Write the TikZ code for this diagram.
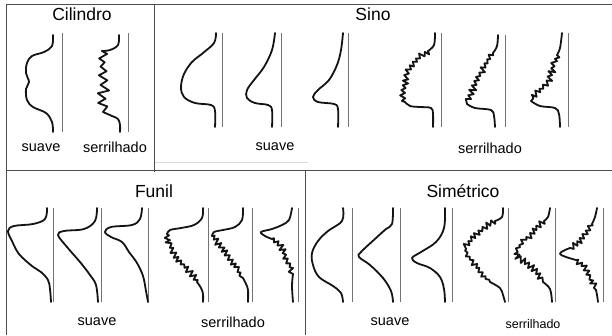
\documentclass[tikz,border=0pt]{standalone}
\usepackage{fontspec}
\setmainfont{Liberation Sans}
\usetikzlibrary{decorations}
\pgfdeclaredecoration{jag}{up}{
  \state{up}[width=+.5\pgfdecorationsegmentlength, next state=down]{
    \pgfmathsetlengthmacro\jagamp{\pgfdecorationsegmentamplitude*(0.3+0.9*rnd)}
    \pgfmathsetlengthmacro\jagpos{\pgfdecorationsegmentlength*(0.12+0.26*rnd)}
    \pgfpathlineto{\pgfqpoint{\jagpos}{\jagamp}}
  }
  \state{down}[width=+.5\pgfdecorationsegmentlength, next state=up]{
    \pgfmathsetlengthmacro\jagamp{\pgfdecorationsegmentamplitude*(0.3+0.9*rnd)}
    \pgfmathsetlengthmacro\jagpos{\pgfdecorationsegmentlength*(0.12+0.26*rnd)}
    \pgfpathlineto{\pgfqpoint{\jagpos}{-\jagamp}}
  }
  \state{final}{\pgfpathlineto{\pgfpointdecoratedpathlast}}
}
\tikzset{
  frame/.style={draw=black!70, line width=1pt},
  axisline/.style={draw=black!55, line width=0.8pt},
  logcurve/.style={draw=black!92, line width=1.8pt, line join=round, line cap=round},
  ttl/.style={anchor=base, inner sep=0pt, font=\fontsize{17.5}{20}\selectfont},
  lbl/.style={anchor=base, inner sep=0pt, font=\fontsize{14.5}{17}\selectfont},
  lbls/.style={anchor=base, inner sep=0pt, font=\fontsize{12.5}{15}\selectfont}
}
% smooth part
\newcommand{\sm}[1]{\draw[logcurve] plot[smooth, tension=0.6] coordinates {#1};}
% jagged part (polyline, decorated)
\newcommand{\jg}[2][]{\draw[logcurve, decorate, decoration={jag, segment length=5pt, amplitude=2.8pt, #1}] plot[sharp plot] coordinates {#2};}
\begin{document}
\begin{tikzpicture}[x=1pt,y=-1pt]
\pgfmathsetseed{11}
\useasboundingbox (0,0) rectangle (612,335);
\fill[white] (0,0) rectangle (612,335);
% frame
\coordinate (tl) at (6,4); \coordinate (tr) at (612,4);
\coordinate (bl) at (6,335);
\coordinate (ct) at (154,4); \coordinate (cb) at (154,172);
\coordinate (ml) at (6,170); \coordinate (mr) at (612,170);
\coordinate (dt) at (305,170); \coordinate (db) at (305,335);
\coordinate (sl) at (155,162); \coordinate (sr) at (308,162);
\draw[frame] (tl) -- (tr);
\draw[frame] (tl) -- (bl);
\draw[frame] (ct) -- (cb);
\draw[frame] (ml) -- (mr);
\draw[frame] (dt) -- (db);
\draw[draw=black!15, line width=0.8pt] (sl) -- (sr);

% titles
\node[ttl] (tcil) at (82,20) {Cilindro};
\node[ttl] (tsin) at (373,20) {Sino};
\node[ttl] (tfun) at (154,197) {Funil};
\node[ttl] (tsim) at (463,197) {Simétrico};
% labels
\node[lbl] (lc1) at (41,151) {suave};
\node[lbl] (lc2) at (115,152) {serrilhado};
\node[lbl] (ls1) at (275,150) {suave};
\node[lbl] (ls2) at (490,153) {serrilhado};
\node[lbl] (lf1) at (97,325) {suave};
\node[lbl] (lf2) at (233,327) {serrilhado};
\node[lbl] (lm1) at (390,325) {suave};
\node[lbls] (lm2) at (533,328) {serrilhado};

% ---- Cilindro
\draw[axisline] (62,33) -- (62,132);
\sm{(53,35) (52,46) (44,52) (32,56) (27,63) (26,73) (29,82) (26,89) (27,100) (33,107) (46,113) (52,122) (53,132)}
\draw[axisline] (128,33) -- (128,132);
\sm{(119,35) (118,45) (110,50) (102,51)}
\jg[segment length=9pt, amplitude=5.5pt]{(102,51) (103,65) (104,80) (103,95) (103,112)}
\sm{(103,112) (112,116) (118,119) (120,125) (120,132)}

% ---- Sino
\draw[axisline] (222,33) -- (222,127);
\sm{(216,33) (214,43) (203,53) (192,62) (184,74) (181,87) (184,97) (195,103) (211,105) (215,111) (215,127)}
\draw[axisline] (281,33) -- (281,127);
\sm{(275,33) (272,50) (264,67) (254,80) (247,90) (247,98) (255,103) (268,105) (272,110) (272,127)}
\draw[axisline] (348,33) -- (348,127);
\sm{(343,33) (341,50) (337,65) (329,80) (318,90) (313,97) (318,102) (334,104) (338,109) (338,127)}
\draw[axisline] (441,33) -- (441,127);
\sm{(435,33) (434,45) (428,51)}
\jg[amplitude=3pt]{(428,51) (418,58) (410,67) (406,78) (404,88) (403,97) (405,102)}
\sm{(405,102) (410,106) (420,107) (431,108) (433,114) (433,127)}
\draw[axisline] (505,35) -- (505,127);
\sm{(498,35) (497,46) (493,53)}
\jg[amplitude=3pt]{(493,53) (486,64) (479,76) (473,89) (469,98) (467,104)}
\sm{(467,104) (475,108) (491,110) (494,116) (495,127)}
\draw[axisline] (568,33) -- (568,127);
\sm{(562,33) (560,48) (557,55)}
\jg[amplitude=3pt]{(557,55) (553,68) (549,80) (541,89) (534,95) (531,101)}
\sm{(531,101) (540,106) (555,108) (559,114) (560,127)}

% ---- Funil
\draw[axisline] (53,208) -- (53,302);
\sm{(47,208) (45,219) (33,224) (14,226) (8,231) (12,241) (19,254) (32,266) (41,272) (48,280) (50,289) (51,302)}
\draw[axisline] (101,208) -- (101,302);
\sm{(97,208) (95,221) (84,229) (64,231) (58,235) (67,247) (80,262) (90,275) (96,285) (98,302)}
\draw[axisline] (148,208) -- (148,302);
\sm{(142,208) (140,219) (132,225) (111,227) (105,232) (111,237) (122,242) (129,252) (137,263) (143,276) (146,291) (148,302)}
\draw[axisline] (208,208) -- (208,302);
\sm{(203,208) (202,218) (194,225) (181,228) (170,230) (167,234)}
\jg{(167,234) (168,242) (173,252) (180,262) (187,268) (194,277) (197,282)}
\sm{(197,282) (201,288) (203,294) (203,302)}
\draw[axisline] (252,208) -- (252,302);
\sm{(243,208) (242,220) (235,227) (223,230) (214,232) (212,236)}
\jg{(212,236) (218,243) (225,252) (232,262) (238,270) (243,278)}
\sm{(243,278) (246,284) (248,290) (248,302)}
\draw[axisline] (298,208) -- (298,302);
\sm{(292,208) (289,220) (282,225) (272,229) (261,232) (265,236) (272,239)}
\jg{(272,239) (280,245) (285,255) (290,265) (293,274)}
\sm{(293,274) (292,286) (293,302)}

% ---- Simetrico
\draw[axisline] (352,208) -- (352,302);
\sm{(343,208) (342,221) (328,231) (318,241) (312,253) (313,265) (319,277) (333,286) (341,293) (343,302)}
\draw[axisline] (400,208) -- (400,302);
\sm{(393,208) (392,224) (386,229) (376,238) (361,252) (359,257) (370,265) (383,278) (391,291) (393,302)}
\draw[axisline] (452,208) -- (452,302);
\sm{(445,208) (444,228) (436,242) (421,252) (412,258) (417,263) (430,268) (440,277) (444,289) (445,302)}
\draw[axisline] (508,208) -- (508,302);
\sm{(503,208) (502,217) (495,221)}
\jg{(495,221) (486,226) (478,233) (470,240) (465,248) (468,256) (476,265) (483,275) (490,282)}
\sm{(490,282) (500,288) (503,295) (505,302)}
\draw[axisline] (555,208) -- (555,302);
\sm{(550,208) (548,217) (544,221)}
\jg{(544,221) (535,230) (525,240) (515,251) (517,257) (527,263) (537,272) (543,282)}
\sm{(543,282) (550,289) (552,302)}
\draw[axisline] (603,208) -- (603,302);
\sm{(597,208) (595,217) (592,224)}
\jg{(592,224) (587,233) (580,242) (570,248)}
\sm{(570,248) (563,251) (560,254) (566,257) (576,260)}
\jg{(576,260) (584,267) (590,278) (596,290)}
\sm{(596,290) (597,295) (598,302)}
\end{tikzpicture}
\end{document}
